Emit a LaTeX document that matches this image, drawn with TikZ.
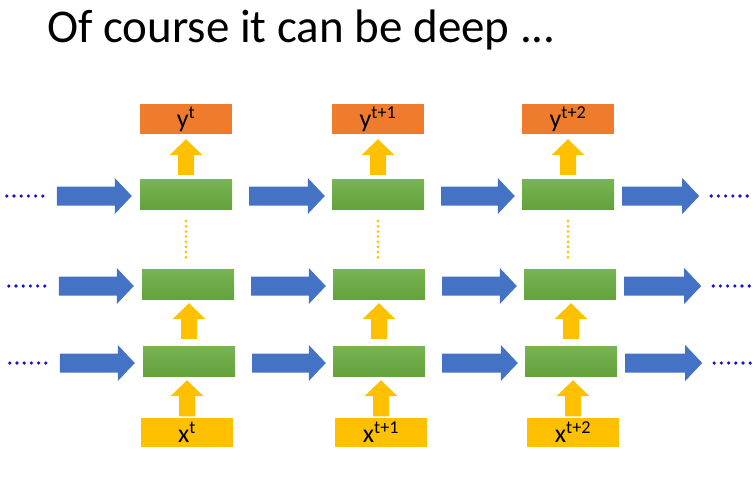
\documentclass[tikz,border=0pt]{standalone}
\usepackage{fontspec}
\setmainfont{Carlito}
\usetikzlibrary{calc}
\definecolor{ablue}{HTML}{4472C4}
\definecolor{aorange}{HTML}{EF7B2C}
\definecolor{ayellow}{HTML}{FFC000}
\definecolor{agreenT}{HTML}{78B453}
\definecolor{agreenB}{HTML}{64A23C}
\definecolor{adots}{HTML}{1515CC}
\begin{document}
\begin{tikzpicture}[x=1pt,y=-1pt,
  box/.style={minimum width=92pt, minimum height=30pt, inner sep=0pt, font=\fontsize{26}{26}\selectfont},
  ybox/.style={box, fill=aorange},
  gbox/.style={box, top color=agreenT, bottom color=agreenB},
  xbox/.style={box, fill=ayellow, minimum height=29pt},
  harrow/.style={fill=ablue, to path={let \p1=(\tikztostart), \p2=(\tikztotarget) in
     (\x1,\y1-9.5pt) -- (\x2-17pt,\y1-9.5pt) -- (\x2-17pt,\y1-18pt) -- (\x2,\y1)
     -- (\x2-17pt,\y1+18pt) -- (\x2-17pt,\y1+9.5pt) -- (\x1,\y1+9.5pt) -- cycle}},
  varrow/.style={fill=ayellow, to path={let \p1=(\tikztostart), \p2=(\tikztotarget) in
     (\x1-8pt,\y1) -- (\x1-8pt,\y2-16pt) -- (\x1-16.5pt,\y2-16pt) -- (\x1,\y2)
     -- (\x1+16.5pt,\y2-16pt) -- (\x1+8pt,\y2-16pt) -- (\x1+8pt,\y1) -- cycle}},
  hdot/.style={fill=adots},
  vdot/.style={fill=ayellow},
]
\useasboundingbox (0,0) rectangle (756,480);
\node[anchor=base west, inner sep=0pt, font=\fontsize{47}{47}\selectfont] (title) at (47,42) {Of course it can be deep ...};
% output boxes
\node[ybox] (y1) at (186,119) {y\textsuperscript{t}};
\node[ybox] (y2) at (378,119) {y\textsuperscript{t+1}};
\node[ybox] (y3) at (568,119) {y\textsuperscript{t+2}};
% green cells
\node[gbox] (g11) at (186,194) {};
\node[gbox] (g12) at (378,194) {};
\node[gbox] (g13) at (568,194) {};
\node[gbox] (g21) at (188,284) {};
\node[gbox] (g22) at (379,284) {};
\node[gbox] (g23) at (570,284) {};
\node[gbox] (g31) at (189,361) {};
\node[gbox] (g32) at (379,361) {};
\node[gbox] (g33) at (571,361) {};
% input boxes
\node[xbox] (x1) at (187,432) {x\textsuperscript{t}};
\node[xbox] (x2) at (381,432) {x\textsuperscript{t+1}};
\node[xbox] (x3) at (573,432) {x\textsuperscript{t+2}};
% vertical arrows
\foreach \c in {1,2,3}{
  \path[varrow] ($(g1\c.north)+(0,4pt)$) to ($(y\c.south)+(0,-5pt)$);
  \path[varrow] ($(g3\c.north)+(0,7pt)$) to ($(g2\c.south)+(0,-4pt)$);
  \path[varrow] ($(x\c.north)+(0,1pt)$) to ($(g3\c.south)+(0,-4pt)$);
  \foreach \k in {0,...,7}{
    \fill[vdot] ($(g1\c.south)+(0,-12pt-\k*5.15pt)$) circle[radius=1.5pt];
  }
}
% horizontal arrows and dots
\foreach \r in {1,2,3}{
  \coordinate (l\r) at ($(g\r1.west)+(-83pt,-2pt)$);
  \path[harrow] (l\r) to ($(g\r1.west)+(-8pt,-2pt)$);
  \path[harrow] ($(g\r1.east)+(17pt,-2pt)$) to ($(g\r2.west)+(-7pt,-2pt)$);
  \path[harrow] ($(g\r2.east)+(17pt,-2pt)$) to ($(g\r3.west)+(-7pt,-2pt)$);
  \coordinate (r\r) at ($(g\r3.east)+(85pt,-2pt)$);
  \path[harrow] ($(g\r3.east)+(8pt,-2pt)$) to (r\r);
  \foreach \k in {0,...,5}{
    \fill[hdot] ($(l\r)+(-50pt+\k*7.2pt,0)$) circle[radius=1.8pt];
    \fill[hdot] ($(r\r)+(12pt+\k*7.2pt,0)$) circle[radius=1.8pt];
  }
}
\end{tikzpicture}
\end{document}
